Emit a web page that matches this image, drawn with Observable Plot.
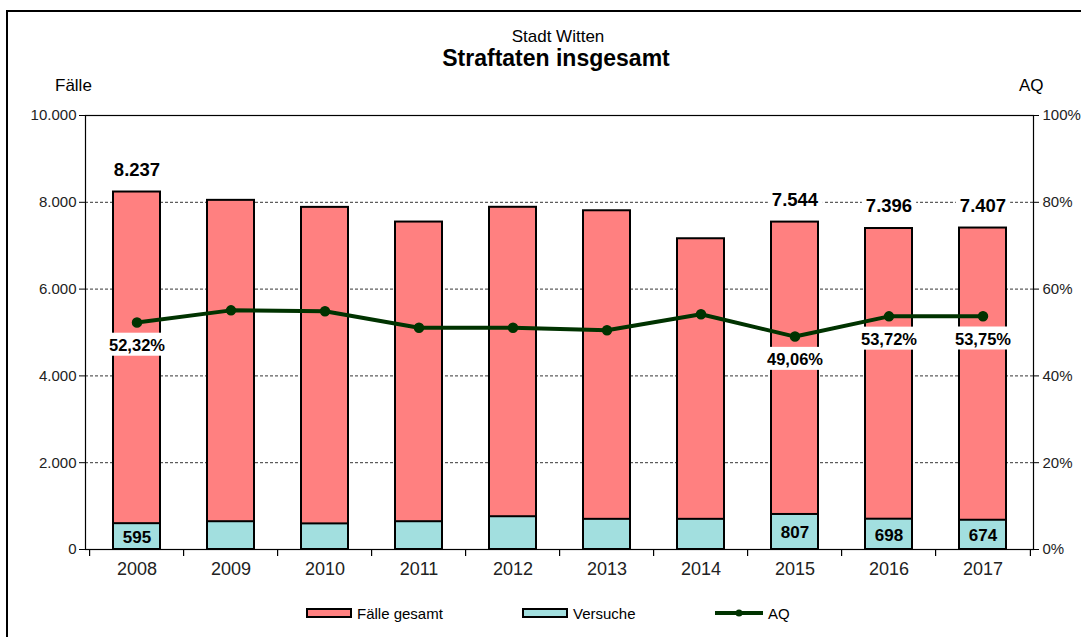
<!DOCTYPE html>
<html>
<head>
<meta charset="utf-8">
<script src="https://cdn.jsdelivr.net/npm/d3@7"></script>
<script src="https://cdn.jsdelivr.net/npm/@observablehq/plot@0.6"></script>
<style>
  html, body { margin: 0; padding: 0; background: #fff; }
  #wrap { position: relative; width: 1081px; height: 637px; overflow: hidden; background: #fff;
          font-family: "Liberation Sans", Arial, sans-serif; color: #000; }
  #frame { position: absolute; left: 6px; top: 10px; width: 1100px; height: 700px;
           border-top: 2px solid #000; border-left: 2px solid #000; }
  .t { position: absolute; white-space: nowrap; }
  #chart { position: absolute; left: 0; top: 0; }
  .leg { position: absolute; top: 604px; height: 18px; display: flex; align-items: center; font-size: 15px; }
  .leg svg { margin-right: 5px; }
</style>
</head>
<body>
<div id="wrap">
  <div id="frame"></div>
  <div id="chart"></div>
</div>
<script>
// ---- data ----
const years = ["2008","2009","2010","2011","2012","2013","2014","2015","2016","2017"];
const faelle = [8237, 8045, 7883, 7545, 7885, 7805, 7160, 7544, 7396, 7407];
const versuche = [595, 640, 590, 640, 755, 695, 695, 807, 698, 674];
const aq = [52.32, 55.1, 54.9, 51.1, 51.1, 50.5, 54.2, 49.06, 53.72, 53.75];
const labeledYears = ["2008","2015","2016","2017"];
const leftTicks = [0, 2000, 4000, 6000, 8000, 10000];
const rightTicks = [0, 20, 40, 60, 80, 100];
const gridTicks = [2000, 4000, 6000, 8000];
const seriesNames = ["Fälle gesamt", "Versuche", "AQ"];
const titleText = "Straftaten insgesamt";
const subtitleText = "Stadt Witten";
const leftAxisName = "Fälle";
const rightAxisName = "AQ";

const colors = { faelle: "#FF8080", versuche: "#A2DFDF", aq: "#003300" };

const rows = years.map((year, i) => ({ year, faelle: faelle[i], versuche: versuche[i], aq: aq[i] }));
const labeled = rows.filter(d => labeledYears.includes(d.year));

const de = d3.formatLocale({ decimal: ",", thousands: ".", grouping: [3], currency: ["", "€"] });
const fmtInt = de.format(",");
const fmtPct = de.format(",.2f");
const totalLabel = d => fmtInt(d.faelle);
const aqLabel = d => fmtPct(d.aq) + "%";

const W = 1081, H = 637;
const mL = 85, mR = 48, mT = 115, mB = 88;
const step = (W - mL - mR) / years.length;
const font = "'Liberation Sans', Arial, sans-serif";

const chart = Plot.plot({
  width: W,
  height: H,
  marginLeft: mL,
  marginRight: mR,
  marginTop: mT,
  marginBottom: mB,
  style: { fontFamily: font, background: "transparent", color: "#000", overflow: "visible" },
  x: { type: "band", domain: years, paddingInner: 0.5, paddingOuter: 0.25, axis: null },
  y: { domain: [0, 10000], axis: null },
  marks: [
    Plot.ruleY(gridTicks, { stroke: "#000", strokeWidth: 0.8, strokeDasharray: "3,2" }),
    Plot.frame({ stroke: "#000", strokeWidth: 1.2 }),
    Plot.axisY({ anchor: "left", ticks: leftTicks, tickFormat: d => fmtInt(d), tickSize: 6, tickPadding: 3,
                 fontSize: 15, label: null, fill: "#222" }),
    Plot.axisY({ anchor: "right", ticks: rightTicks.map(p => p * 100), tickFormat: d => (d / 100) + "%",
                 tickSize: 5, tickPadding: 4, fontSize: 15, label: null, fill: "#222" }),
    Plot.axisX({ tickSize: 0, tickPadding: 13, fontSize: 18, label: null, fill: "#222" }),
    Plot.ruleX(rows, { x: "year", y1: 0, y2: -160, dx: -step / 2, stroke: "#000", strokeWidth: 1.2 }),
    Plot.ruleX(rows.slice(-1), { x: "year", y1: 0, y2: -160, dx: step / 2, stroke: "#000", strokeWidth: 1.2 }),
    Plot.barY(rows, { x: "year", y: "faelle", fill: colors.faelle, stroke: "#000", strokeWidth: 2 }),
    Plot.barY(rows, { x: "year", y: "versuche", fill: colors.versuche, stroke: "#000", strokeWidth: 2 }),
    Plot.lineY(rows, { x: "year", y: d => d.aq * 100, stroke: colors.aq, strokeWidth: 4, curve: "linear" }),
    Plot.dot(rows, { x: "year", y: d => d.aq * 100, r: 4.5, fill: colors.aq, stroke: colors.aq }),
    Plot.text(labeled, { x: "year", y: "faelle", text: totalLabel, dy: -22, fontSize: 18.5,
                         fontWeight: "bold", fill: "#000" }),
    Plot.text(labeled, { x: "year", y: d => d.aq * 100, text: aqLabel, dy: 23, fontSize: 16.5,
                         fontWeight: "bold", fill: "#000" }),
    Plot.text(labeled, { x: "year", y: d => d.versuche / 2, text: d => fmtInt(d.versuche), dy: 1, fontSize: 17,
                         fontWeight: "bold", fill: "#000" })
  ]
});

document.getElementById("chart").appendChild(chart);

// white boxes behind the total and AQ labels
const boxed = new Set([...labeled.map(totalLabel), ...labeled.map(aqLabel)]);
for (const t of Array.from(chart.querySelectorAll("text"))) {
  if (!boxed.has(t.textContent.trim())) continue;
  const b = t.getBBox();
  const r = document.createElementNS("http://www.w3.org/2000/svg", "rect");
  r.setAttribute("x", b.x - 4);
  r.setAttribute("y", b.y - 3);
  r.setAttribute("width", b.width + 8);
  r.setAttribute("height", b.height + 5);
  r.setAttribute("fill", "#fff");
  const tr = t.getAttribute("transform");
  if (tr) r.setAttribute("transform", tr);
  t.parentNode.insertBefore(r, t);
}

// titles
const wrap = document.getElementById("wrap");
function addText(txt, css) {
  const d = document.createElement("div");
  d.className = "t";
  d.textContent = txt;
  Object.assign(d.style, css);
  wrap.appendChild(d);
  return d;
}
addText(subtitleText, { left: "558px", top: "28px", transform: "translateX(-50%)", fontSize: "17px", lineHeight: "17px" });
addText(titleText, { left: "556px", top: "47px", transform: "translateX(-50%)", fontSize: "23px", lineHeight: "23px", fontWeight: "bold" });
addText(leftAxisName, { left: "55px", top: "77px", fontSize: "17px", lineHeight: "17px" });
addText(rightAxisName, { left: "1019px", top: "77px", fontSize: "17px", lineHeight: "17px" });

// legend
const legendPos = [306, 522, 715];
const swatches = [
  `<svg width="46" height="10"><rect x="1" y="1" width="44" height="8" fill="${colors.faelle}" stroke="#000" stroke-width="2"/></svg>`,
  `<svg width="46" height="10"><rect x="1" y="1" width="44" height="8" fill="${colors.versuche}" stroke="#000" stroke-width="2"/></svg>`,
  `<svg width="48" height="10"><line x1="0" y1="5" x2="48" y2="5" stroke="${colors.aq}" stroke-width="4"/><circle cx="24" cy="5" r="3.5" fill="${colors.aq}"/></svg>`
];
seriesNames.forEach((name, i) => {
  const d = document.createElement("div");
  d.className = "leg";
  d.style.left = legendPos[i] + "px";
  d.innerHTML = swatches[i] + `<span>${name}</span>`;
  wrap.appendChild(d);
});
</script>
</body>
</html>
